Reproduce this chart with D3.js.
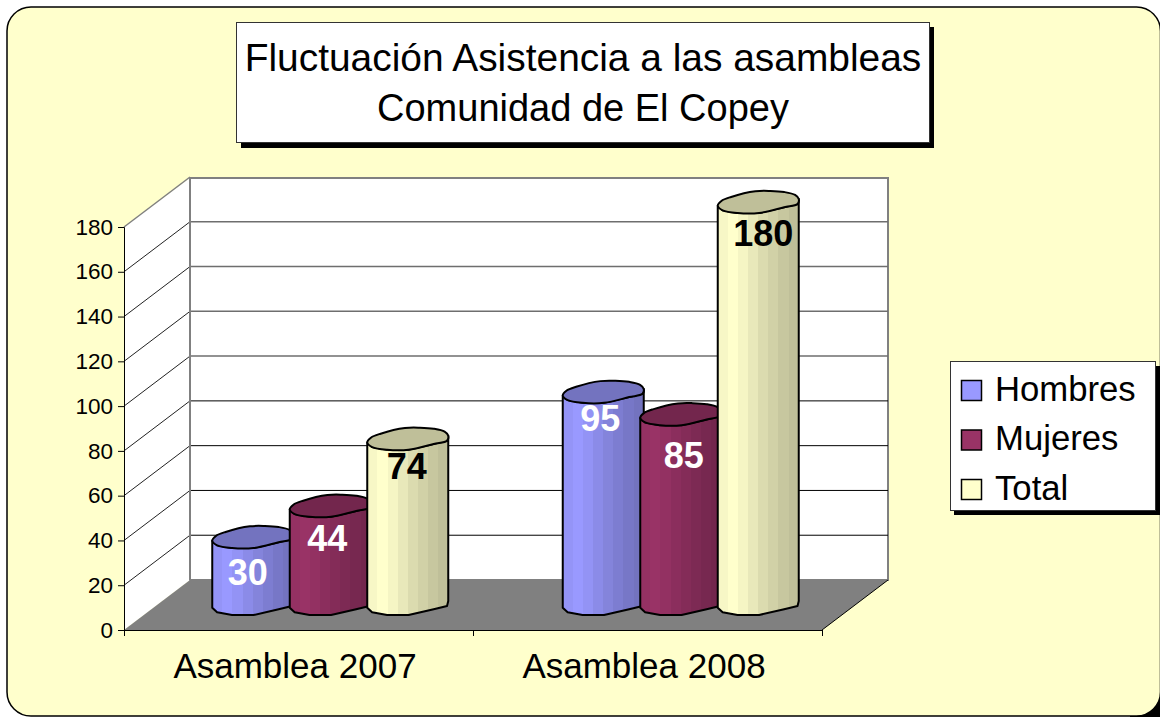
<!DOCTYPE html>
<html>
<head>
<meta charset="utf-8">
<script src="https://cdn.jsdelivr.net/npm/d3@7"></script>
<style>
    html, body { margin: 0; padding: 0; background: #fff; }
    svg { display: block; }
    text { font-family: "Liberation Sans", Arial, sans-serif; fill: #000; }
</style>
</head>
<body>
<svg></svg>
<script>
// the data
let categories = ['Asamblea 2007', 'Asamblea 2008']
let seriesNames = ['Hombres', 'Mujeres', 'Total']
let hombres = [30, 95]
let mujeres = [44, 85]
let total = [74, 180]
let yTicks = [0, 20, 40, 60, 80, 100, 120, 140, 160, 180]
let titleLines = ['Fluctuación Asistencia a las asambleas', 'Comunidad de El Copey']

// colours of each series, the same order as seriesNames
let seriesColors = ['#9999ff', '#993366', '#ffffcc']
let labelColors = ['#fff', '#fff', '#000']
// brightness of the vertical strips on a cylinder, left to right
let shadeSteps = [0.97, 1, 0.96, 0.91, 0.86, 0.82, 0.78, 0.75]
let capShade = 0.75

// dimention of our Canvas
let width = 1160
let height = 717

// the 3d box, front corner and how far the back wall is shifted
let frontLeft = 124
let frontRight = 822
let frontBottom = 630
let frontTop = 227
let depthX = 66
let depthY = 50

let svg = d3.select('svg').attr('width', width).attr('height', height)

let rows = [hombres, mujeres, total]

// front edge of the box
let yScale = d3.scaleLinear().domain([0, 180]).range([frontBottom, frontTop])
// bars stand in the middle of the floor depth
let barY = d3.scaleLinear().domain([0, 180]).range([604, 202])
let xScale = d3.scaleBand().domain(categories).range([frontLeft, frontRight])
let barX = d3.scaleBand().domain(categories).range([155, 856])
let seriesX = d3.scalePoint().domain(seriesNames).range([-77.5, 77.5])

let shade = (color, k) => {
    let c = d3.rgb(color)
    return d3.rgb(c.r * k, c.g * k, c.b * k).formatHex()
}

let drawPanel = () => {
    // black shows in the bottom right corner only
    svg.append('rect')
        .attr('x', 1130).attr('y', 690)
        .attr('width', 30).attr('height', 27)
        .attr('fill', '#000')
    svg.append('rect')
        .attr('x', 7).attr('y', 7)
        .attr('width', 1153.5).attr('height', 709)
        .attr('rx', 24)
        .attr('fill', '#ffffcc')
        .attr('stroke', '#000')
        .attr('stroke-width', 1.5)
}

let drawTitle = () => {
    svg.append('rect')
        .attr('x', 241).attr('y', 27)
        .attr('width', 693).attr('height', 121)
        .attr('fill', '#000')
    svg.append('rect')
        .attr('x', 236.5).attr('y', 22.5)
        .attr('width', 693).attr('height', 120)
        .attr('fill', '#fff')
        .attr('stroke', '#333')
    svg.selectAll('.title')
        .data(titleLines)
        .enter()
        .append('text')
        .attr('class', 'title')
        .attr('x', 583)
        .attr('y', (d, i) => 71 + i * 50)
        .attr('text-anchor', 'middle')
        .attr('font-size', (d, i) => i == 0 ? 38.9 : 38)
        .text(d => d)
}

let drawBox = () => {
    let floor = d3.line()([
        [frontLeft, frontBottom],
        [frontRight, frontBottom],
        [frontRight + depthX, frontBottom - depthY],
        [frontLeft + depthX, frontBottom - depthY]
    ]) + 'Z'
    let side = d3.line()([
        [frontLeft, frontBottom],
        [frontLeft + depthX, frontBottom - depthY],
        [frontLeft + depthX, frontTop - depthY + 1],
        [frontLeft, frontTop]
    ]) + 'Z'

    svg.append('rect')
        .attr('x', frontLeft + depthX)
        .attr('y', frontTop - depthY + 1)
        .attr('width', frontRight - frontLeft)
        .attr('height', frontBottom - frontTop - 1)
        .attr('fill', '#fff')
        .attr('stroke', '#808080')
        .attr('stroke-width', 2)
    svg.append('path').attr('d', side).attr('fill', '#fff')

    // grid on the side wall and the back wall
    let gridColor = d => d >= 100 ? '#6e6e6e' : '#000'
    let gridValues = yTicks.filter(d => d > 0 && d < 180)
    svg.selectAll('.grid-back')
        .data(gridValues)
        .enter()
        .append('line')
        .attr('class', 'grid-back')
        .attr('x1', frontLeft + depthX)
        .attr('x2', frontRight + depthX)
        .attr('y1', d => yScale(d) - depthY)
        .attr('y2', d => yScale(d) - depthY)
        .attr('stroke', gridColor)
        .attr('stroke-width', d => d >= 100 ? 1.5 : 1)
    svg.selectAll('.grid-side')
        .data(yTicks.filter(d => d > 0))
        .enter()
        .append('line')
        .attr('class', 'grid-side')
        .attr('x1', frontLeft)
        .attr('x2', frontLeft + depthX)
        .attr('y1', d => yScale(d))
        .attr('y2', d => yScale(d) - depthY)
        .attr('stroke', d => d == 180 ? '#808080' : '#222')
        .attr('stroke-width', d => d == 180 ? 1.5 : 1)

    svg.append('line')
        .attr('x1', frontLeft + depthX).attr('x2', frontLeft + depthX)
        .attr('y1', frontTop - depthY).attr('y2', frontBottom - depthY)
        .attr('stroke', '#808080').attr('stroke-width', 2)

    svg.append('path').attr('d', floor).attr('fill', '#808080')
    svg.append('path')
        .attr('d', d3.line()([
            [frontRight, frontBottom],
            [frontRight + depthX, frontBottom - depthY]
        ]))
        .attr('stroke', '#000')
}

// outline of a cylinder end as drawn in the picture, lumpy and tilted.
// first the lower half from right to left, then the upper half back round,
// in units of half the bar width and half the end height
let lowerOutline = [
    [1, -0.28], [0.97, 0.19], [0.64, 0.5], [0.02, 1.05], [-0.51, 1.05], [-0.88, 0.79], [-1, 0.36]
]
let upperOutline = [
    [-0.91, -0.1], [-0.67, -0.48], [-0.07, -1.02], [0.3, -1.05], [0.64, -0.95], [0.91, -0.67]
]
let halfWidth = 40.5
let halfHeight = 10.5
let endPoints = (outline, cx, cy) => outline.map(p => [cx + p[0] * halfWidth, cy + p[1] * halfHeight])

let drawBars = () => {
    let defs = svg.append('defs')
    seriesNames.forEach((name, s) => {
        let grad = defs.append('linearGradient').attr('id', 'strip' + s)
        shadeSteps.forEach((k, i) => {
            grad.append('stop')
                .attr('offset', i / shadeSteps.length)
                .attr('stop-color', shade(seriesColors[s], k))
            grad.append('stop')
                .attr('offset', (i + 1) / shadeSteps.length)
                .attr('stop-color', shade(seriesColors[s], k))
        })
    })

    let capLine = d3.line().curve(d3.curveCatmullRomClosed)

    categories.forEach((cat, c) => {
        seriesNames.forEach((name, s) => {
            let value = rows[s][c]
            let cx = barX(cat) + barX.bandwidth() / 2 + seriesX(name)
            let topY = barY(value)
            let baseY = barY(0)

            // bottom end, then straight up the left side and round the top
            let body = endPoints(lowerOutline, cx, baseY)
                .concat(endPoints(lowerOutline.slice().reverse(), cx, topY))

            svg.append('path')
                .attr('class', 'bar')
                .attr('d', d3.line()(body) + 'Z')
                .attr('fill', 'url(#strip' + s + ')')
                .attr('stroke', '#000')
                .attr('stroke-width', 2)
                .attr('stroke-linejoin', 'round')

            svg.append('path')
                .attr('class', 'cap')
                .attr('d', capLine(endPoints(lowerOutline.concat(upperOutline), cx, topY)))
                .attr('fill', shade(seriesColors[s], capShade))
                .attr('stroke', '#000')
                .attr('stroke-width', 2)
                .attr('stroke-linejoin', 'round')
        })
    })
}

// the labels do not sit at one fixed place on the bars, [dx, dy] from the top centre
let labelNudge = [
    [[-5, 35], [-3, 26]],
    [[-3, 32], [3, 41]],
    [[-1, 27], [5, 31]]
]

let drawLabels = () => {
    categories.forEach((cat, c) => {
        seriesNames.forEach((name, s) => {
            let cx = barX(cat) + barX.bandwidth() / 2 + seriesX(name)
            svg.append('text')
                .attr('x', cx + labelNudge[s][c][0])
                .attr('y', barY(rows[s][c]) + labelNudge[s][c][1] + 13)
                .attr('text-anchor', 'middle')
                .attr('font-size', 36)
                .attr('font-weight', 'bold')
                .style('fill', labelColors[s])
                .text(rows[s][c])
        })
    })
}

let drawAxes = () => {
    let yAxis = d3.axisLeft(yScale).tickValues(yTicks).tickSize(6).tickPadding(5)
    let yGroup = svg.append('g')
        .attr('id', 'y-axis')
        .attr('transform', 'translate(' + frontLeft + ', 0)')
        .call(yAxis)
    yGroup.selectAll('text').attr('font-size', 22.5)
    yGroup.selectAll('line').attr('stroke', '#000')

    // category ticks go on the band edges, so a second scale for them
    let edgeScale = d3.scaleLinear().domain([0, categories.length]).range([frontLeft, frontRight])
    let edges = svg.append('g')
        .attr('transform', 'translate(0, ' + frontBottom + ')')
        .call(d3.axisBottom(edgeScale).tickValues(d3.range(0, categories.length + 1)).tickSize(6).tickFormat(''))
    edges.selectAll('line').attr('stroke', '#000')

    let xGroup = svg.append('g')
        .attr('id', 'x-axis')
        .attr('transform', 'translate(-3.5, ' + frontBottom + ')')
        .call(d3.axisBottom(xScale).tickSize(0).tickPadding(23))
    xGroup.select('.domain').remove()
    xGroup.selectAll('text').attr('font-size', 35)
}

let drawLegend = () => {
    svg.append('rect')
        .attr('x', 954).attr('y', 366)
        .attr('width', 206).attr('height', 149)
        .attr('fill', '#000')
    svg.append('rect')
        .attr('x', 950.5).attr('y', 361.5)
        .attr('width', 205).attr('height', 149)
        .attr('fill', '#fff')
        .attr('stroke', '#333')

    let legendY = d3.scalePoint().domain(seriesNames).range([390.5, 489.5])
    let items = svg.selectAll('.legend')
        .data(seriesNames)
        .enter()
        .append('g')
        .attr('class', 'legend')
        .attr('transform', d => 'translate(0, ' + legendY(d) + ')')
    items.append('rect')
        .attr('x', 961.5).attr('y', -10)
        .attr('width', 20).attr('height', 20)
        .attr('fill', (d, i) => seriesColors[i])
        .attr('stroke', '#000')
        .attr('stroke-width', 1.5)
    items.append('text')
        .attr('x', 995).attr('y', 10)
        .attr('font-size', 34.7)
        .text(d => d)
}

drawPanel()
drawTitle()
drawBox()
drawBars()
drawLabels()
drawAxes()
drawLegend()
</script>
</body>
</html>
